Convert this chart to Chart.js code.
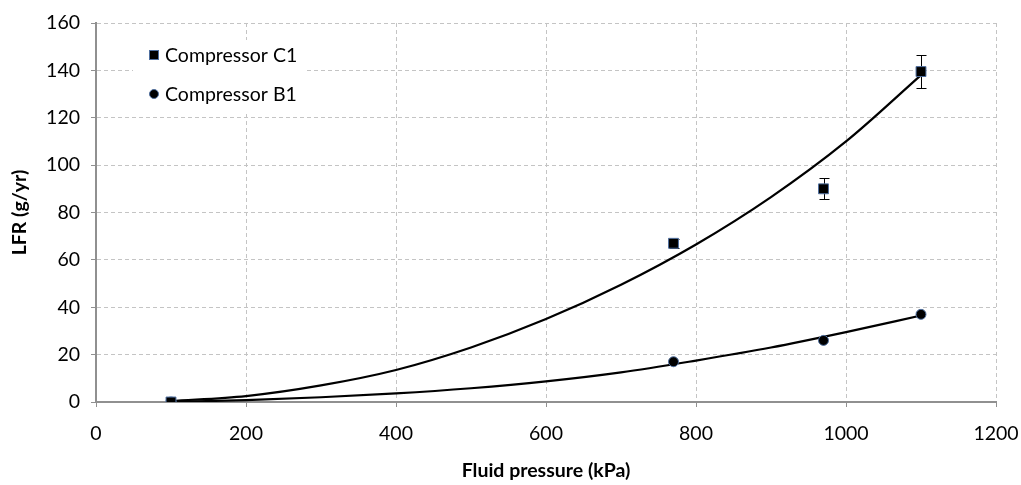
<!DOCTYPE html>
<html>
<head>
<meta charset="utf-8">
<script src="https://cdn.jsdelivr.net/npm/chart.js@4/dist/chart.umd.min.js"></script>
<style>
html,body{margin:0;padding:0;background:#fff;}
#wrap{width:1021px;height:485px;position:relative;}
</style>
</head>
<body>
<div id="wrap"><canvas id="c" width="1021" height="485"></canvas></div>
<script>
// ---- data ----
const pressureC1 = [100, 770, 970, 1100];
const lfrC1 = [0, 67, 90, 139.5];
const errC1 = [0, 2, 4.5, 7];

const pressureB1 = [100, 770, 970, 1100];
const lfrB1 = [0, 17, 26, 37];
const errB1 = [0, 0, 0, 0];

const fitX = [100, 200, 300, 400, 500, 600, 700, 800, 900, 1000, 1100];
const fitC1 = [0.4, 2.5, 7, 13.5, 23, 35, 49.5, 66.5, 86.5, 110, 138];
const fitB1 = [0, 0.8, 2, 3.6, 5.8, 8.7, 12.5, 17.5, 23, 29.5, 36.5];

const seriesNames = ['Compressor C1', 'Compressor B1'];
const xTitle = 'Fluid pressure (kPa)';
const yTitle = 'LFR (g/yr)';

const FONT = 'Lato, "Open Sans", sans-serif';
const toXY = (xs, ys) => xs.map((x, i) => ({x: x, y: ys[i]}));

const errorBars = {
  id: 'errorBars',
  beforeDatasetsDraw(chart) {
    const ctx = chart.ctx, xs = chart.scales.x, ys = chart.scales.y;
    const sets = [[pressureC1, lfrC1, errC1], [pressureB1, lfrB1, errB1]];
    ctx.save();
    ctx.strokeStyle = '#000';
    ctx.lineWidth = 1;
    sets.forEach(([px, vy, ey]) => {
      px.forEach((p, i) => {
        if (!ey[i]) return;
        const x = Math.round(xs.getPixelForValue(p)) + 0.5;
        const y1 = Math.round(ys.getPixelForValue(vy[i] + ey[i])) + 0.5;
        const y2 = Math.round(ys.getPixelForValue(vy[i] - ey[i])) + 0.5;
        ctx.beginPath();
        ctx.moveTo(x, y1); ctx.lineTo(x, y2);
        ctx.moveTo(x - 5, y1); ctx.lineTo(x + 5, y1);
        ctx.moveTo(x - 5, y2); ctx.lineTo(x + 5, y2);
        ctx.stroke();
      });
    });
    ctx.restore();
  }
};

const innerLegend = {
  id: 'innerLegend',
  afterDraw(chart) {
    const ctx = chart.ctx;
    ctx.save();
    ctx.fillStyle = '#fff';
    ctx.fillRect(133, 40, 172, 72);
    ctx.font = '19.5px ' + FONT;
    ctx.textBaseline = 'middle';
    ctx.textAlign = 'left';
    // C1 square
    ctx.fillStyle = '#000';
    ctx.strokeStyle = '#4f6f9f';
    ctx.lineWidth = 1;
    ctx.fillRect(149.5, 50.5, 9, 9);
    ctx.strokeRect(149.5, 50.5, 9, 9);
    ctx.fillStyle = '#000';
    ctx.fillText(seriesNames[0], 165, 56);
    // B1 circle
    ctx.beginPath();
    ctx.arc(154, 94, 4.5, 0, Math.PI * 2);
    ctx.fillStyle = '#000';
    ctx.fill();
    ctx.strokeStyle = '#4f6f9f';
    ctx.stroke();
    ctx.fillStyle = '#000';
    ctx.fillText(seriesNames[1], 165, 95);
    ctx.restore();
  }
};

new Chart(document.getElementById('c'), {
  type: 'scatter',
  data: {
    datasets: [
      {
        label: seriesNames[0],
        data: toXY(pressureC1, lfrC1),
        pointStyle: 'rect',
        pointRadius: 7,
        backgroundColor: '#000',
        borderColor: '#4f6f9f',
        borderWidth: 1,
        showLine: false
      },
      {
        label: seriesNames[1],
        data: toXY(pressureB1, lfrB1),
        pointStyle: 'circle',
        pointRadius: 5,
        backgroundColor: '#000',
        borderColor: '#4f6f9f',
        borderWidth: 1,
        showLine: false
      },
      {
        label: 'fitC1',
        data: toXY(fitX, fitC1),
        showLine: true,
        pointRadius: 0,
        borderColor: '#000',
        borderWidth: 2.2,
        cubicInterpolationMode: 'monotone',
        fill: false
      },
      {
        label: 'fitB1',
        data: toXY(fitX, fitB1),
        showLine: true,
        pointRadius: 0,
        borderColor: '#000',
        borderWidth: 2.2,
        cubicInterpolationMode: 'monotone',
        fill: false
      }
    ]
  },
  options: {
    responsive: false,
    animation: false,
    devicePixelRatio: 1,
    layout: {padding: {top: 23, right: 25, left: 0, bottom: 0}},
    plugins: {legend: {display: false}, tooltip: {enabled: false}},
    scales: {
      x: {
        type: 'linear',
        min: 0, max: 1200,
        ticks: {stepSize: 200, color: '#000', font: {family: FONT, size: 19.5}, padding: 15, callback: v => String(v)},
        grid: {color: '#c4c4c4', tickColor: '#909090', tickLength: 5, lineWidth: 1},
        border: {display: true, color: '#909090', width: 2, dash: [4, 3]},
        title: {display: true, text: xTitle, color: '#000', font: {family: FONT, size: 19.5, weight: 'bold'}, padding: {top: 4, bottom: 3}},
        afterFit: s => { s.height = 83; s.paddingRight = 0; s.paddingLeft = 0; }
      },
      y: {
        type: 'linear',
        min: 0, max: 160,
        ticks: {stepSize: 20, color: '#000', font: {family: FONT, size: 19.5}, padding: 11, callback: v => String(v)},
        grid: {color: '#c4c4c4', tickColor: '#909090', tickLength: 5, lineWidth: 1},
        border: {display: true, color: '#909090', width: 2, dash: [4, 3]},
        title: {display: true, text: yTitle, color: '#000', font: {family: FONT, size: 19.5, weight: 'bold'}, padding: {top: 8, bottom: 4}},
        afterFit: s => { s.width = 96; }
      }
    }
  },
  plugins: [errorBars, innerLegend]
});
</script>
</body>
</html>
